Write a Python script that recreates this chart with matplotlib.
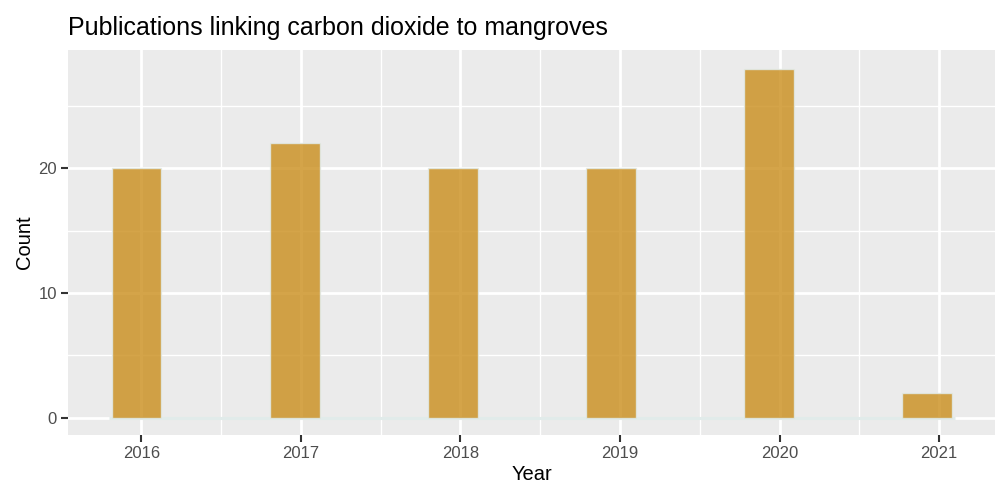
import numpy as np
import matplotlib
matplotlib.use("Agg")
import matplotlib.pyplot as plt

# data
years = [2016, 2017, 2018, 2019, 2020, 2021]
counts = [20, 22, 20, 20, 28, 2]
title = "Publications linking carbon dioxide to mangroves"

plt.rcParams['font.family'] = ['Liberation Sans', 'DejaVu Sans']

fig = plt.figure(figsize=(9.96, 4.84), dpi=100)
W, H = 996, 484
# panel in pixels: left 68, right 995, top 50, bottom 435
ax = fig.add_axes([68 / W, 1 - 435 / H, (995 - 68) / W, (435 - 50) / H])
ax.set_facecolor('#EBEBEB')
for s in ax.spines.values():
    s.set_visible(False)

# histogram-ish bins (ggplot binning drifts slightly vs. the year ticks)
yrs = np.array(years, dtype=float)
binw = 0.31
lefts = yrs - 0.184 - 0.0095 * (yrs - years[0])

ax.set_xlim(2015.54, 2021.35)
ax.set_ylim(-1.4, 29.5)

# grid
for x in np.arange(2016.5, 2021.0, 1.0):
    ax.axvline(x, color='white', lw=1.0, zorder=0)
for y in [5, 15, 25]:
    ax.axhline(y, color='white', lw=1.0, zorder=0)
for x in years:
    ax.axvline(x, color='white', lw=2.0, zorder=0)
for y in [0, 10, 20]:
    ax.axhline(y, color='white', lw=2.0, zorder=0)

# empty bins outline along zero
ax.plot([lefts[0] - 0.02, lefts[-1] + binw + 0.02], [0, 0], color='#E1EBEA', lw=2.2,
        zorder=1, solid_capstyle='butt')
ax.bar(lefts, counts, width=binw, align='edge', color='#CA8E1C', alpha=0.8,
       edgecolor='#E1EBEA', linewidth=1.0, zorder=2)

ax.set_xticks(years)
ax.set_xticklabels([str(y) for y in years])
ax.set_yticks([0, 10, 20])
ax.tick_params(axis='both', colors='#333333', labelcolor='#4D4D4D', labelsize=12,
               length=5, width=1.5, pad=3)
ax.set_xlabel('Year', fontsize=14.5, color='black', labelpad=3)
ax.set_ylabel('Count', fontsize=14.5, color='black', labelpad=3)
fig.text(68 / W, 1 - 28 / H, title, fontsize=18, color='black', va='center', ha='left')

fig.savefig('out.png', dpi=100)
